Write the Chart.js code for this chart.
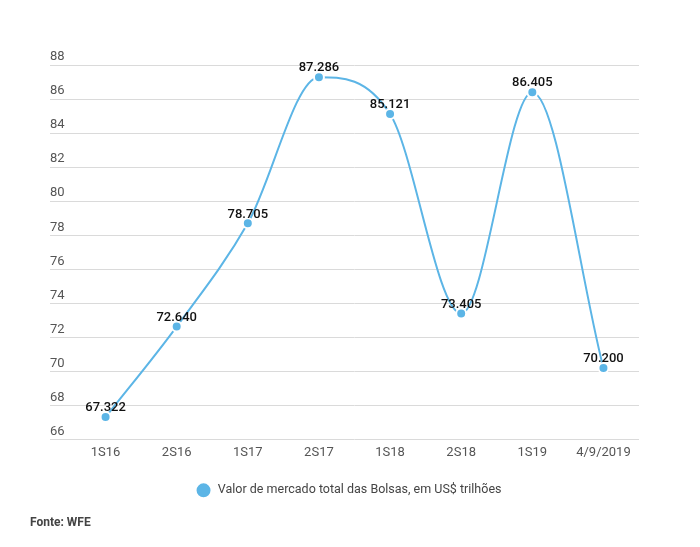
<!DOCTYPE html>
<html>
<head>
<meta charset="utf-8">
<script src="https://cdn.jsdelivr.net/npm/chart.js@4"></script>
<style>
  html, body { margin: 0; padding: 0; background: #fff; }
  #wrap { width: 700px; height: 547px; position: relative; }
</style>
</head>
<body>
<div id="wrap"><canvas id="c" width="700" height="547"></canvas></div>
<script>
const categories = ["1S16", "2S16", "1S17", "2S17", "1S18", "2S18", "1S19", "4/9/2019"];
const seriesValues = [67.322, 72.640, 78.705, 87.286, 85.121, 73.405, 86.405, 70.200];
const valueLabels = ["67.322", "72.640", "78.705", "87.286", "85.121", "73.405", "86.405", "70.200"];
const seriesName = "Valor de mercado total das Bolsas, em US$ trilhões";
const sourceText = "Fonte: WFE";
const yMin = 66, yMax = 88, yStep = 2;

const blue = "#5cb5e6";

const dataLabelPlugin = {
  id: "dataLabels",
  afterDatasetsDraw(chart) {
    const ctx = chart.ctx;
    const meta = chart.getDatasetMeta(0);
    ctx.save();
    ctx.font = "500 13px Roboto";
    ctx.fillStyle = "#111";
    ctx.textAlign = "center";
    ctx.textBaseline = "middle";
    meta.data.forEach((pt, i) => {
      ctx.fillText(valueLabels[i], pt.x, pt.y - 9);
    });
    ctx.restore();
  }
};

new Chart(document.getElementById("c"), {
  type: "line",
  data: {
    labels: categories,
    datasets: [{
      label: seriesName,
      data: seriesValues,
      borderColor: blue,
      backgroundColor: blue,
      borderWidth: 2,
      pointRadius: 5,
      pointBorderWidth: 2,
      pointBorderColor: "#fff",
      pointBackgroundColor: blue,
      cubicInterpolationMode: "monotone",
      fill: false
    }]
  },
  options: {
    responsive: false,
    animation: false,
    devicePixelRatio: 1,
    layout: { padding: { left: 30, right: 33, top: 65, bottom: 17 } },
    scales: {
      x: {
        offset: true,
        grid: { display: false, drawTicks: false },
        border: { display: false },
        ticks: { padding: 5, color: "#555", font: { family: "Roboto", size: 13 } },
        afterFit(axis) { axis.height = 38; }
      },
      y: {
        min: yMin, max: yMax,
        grid: { color: "#dadada", lineWidth: 1, drawTicks: true, tickLength: 20 },
        border: { display: false },
        ticks: {
          stepSize: yStep,
          mirror: true,
          padding: -20,
          labelOffset: -8,
          color: "#555",
          font: { family: "Roboto", size: 13 }
        },
        afterFit(axis) { axis.width = 40; }
      },
      yRight: {
        position: "right",
        display: true,
        min: yMin, max: yMax,
        grid: { display: false, drawTicks: false },
        border: { display: false },
        ticks: { display: false },
        afterFit(axis) { axis.width = 28; }
      }
    },
    plugins: {
      legend: {
        position: "bottom",
        labels: {
          usePointStyle: true,
          pointStyle: "circle",
          pointStyleWidth: 16,
          boxHeight: 11.3,
          padding: 6.5,
          color: "#444",
          font: { family: "Roboto", size: 12.5 }
        }
      },
      title: {
        display: true,
        text: sourceText,
        position: "bottom",
        align: "start",
        color: "#444",
        font: { family: "Roboto", size: 12, weight: "bold" },
        padding: { top: 9, bottom: 0 }
      },
      tooltip: { enabled: false }
    }
  },
  plugins: [dataLabelPlugin]
});
</script>
</body>
</html>
